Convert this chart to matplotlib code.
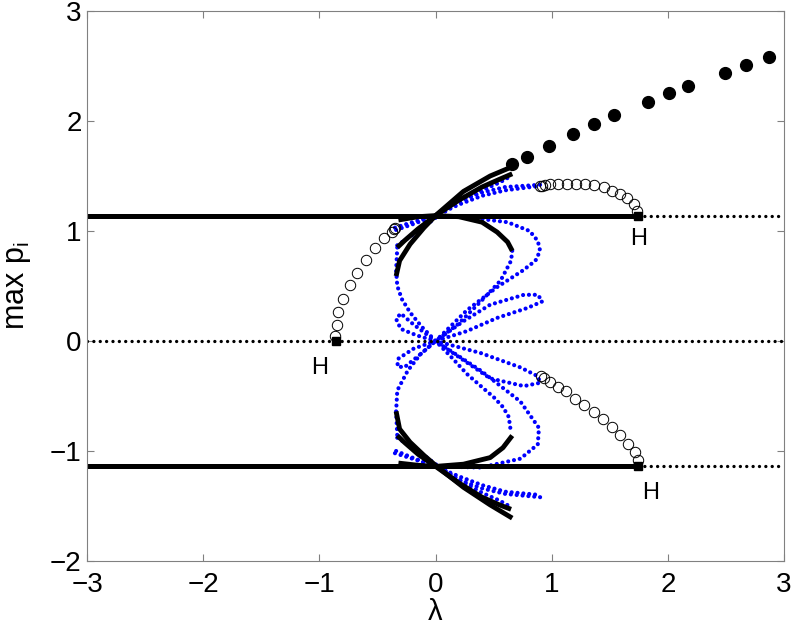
import matplotlib
matplotlib.use("Agg")
import matplotlib.pyplot as plt

plt.rcParams['font.family'] = ['Liberation Sans', 'DejaVu Sans']

# steady states (lines at 0 and +-1.14), Hopf points
lam_hopf = [-0.86, 1.74, 1.74]
p_hopf = [0.0, 1.14, -1.14]
p_level = 1.14

# periodic branches from the Hopf points (open circles)
left_x = [-0.866, -0.852, -0.838, -0.795, -0.737, -0.674, -0.599, -0.522, -0.444, -0.378, -0.358, -0.349]
left_y = [0.05, 0.15, 0.26, 0.384, 0.505, 0.616, 0.738, 0.844, 0.938, 0.995, 1.02, 1.03]
upr_x = [0.895, 0.916, 0.944, 0.987, 1.05, 1.131, 1.211, 1.289, 1.366, 1.447, 1.522, 1.591, 1.648, 1.705, 1.734]
upr_y = [1.405, 1.411, 1.416, 1.423, 1.425, 1.429, 1.429, 1.423, 1.414, 1.398, 1.368, 1.338, 1.302, 1.247, 1.186]
lor_x = [0.909, 0.935, 0.981, 1.05, 1.125, 1.203, 1.28, 1.36, 1.441, 1.519, 1.591, 1.657, 1.714, 1.74]
lor_y = [-0.314, -0.338, -0.375, -0.414, -0.459, -0.525, -0.586, -0.647, -0.707, -0.784, -0.859, -0.935, -1.011, -1.086]

# stable periodic branch (filled circles)
fill_x = [0.661, 0.791, 0.977, 1.179, 1.365, 1.537, 1.825, 2.007, 2.170, 2.494, 2.672, 2.873]
fill_y = [1.606, 1.673, 1.773, 1.879, 1.970, 2.052, 2.175, 2.252, 2.321, 2.439, 2.509, 2.582]

# black solid curves
k1_up_x = [-0.34, -0.31, -0.22, -0.10, 0.01, 0.24, 0.47, 0.65]
k1_up_y = [0.59, 0.73, 0.88, 1.03, 1.15, 1.36, 1.50, 1.58]
k2_up_x = [-0.33, -0.27, -0.15, 0.0, 0.2, 0.4, 0.55, 0.66]
k2_up_y = [0.85, 0.91, 1.02, 1.14, 1.28, 1.40, 1.47, 1.52]
k3_up_x = [-0.32, -0.15, 0.0, 0.2, 0.4, 0.53, 0.62, 0.66]
k3_up_y = [1.10, 1.13, 1.14, 1.13, 1.08, 0.99, 0.90, 0.82]
k1_lo_x = [-0.34, -0.31, -0.22, -0.10, 0.01, 0.24, 0.47, 0.66]
k1_lo_y = [-0.64, -0.80, -0.92, -1.04, -1.14, -1.33, -1.49, -1.61]
k2_lo_x = [-0.33, -0.27, -0.15, 0.0, 0.2, 0.4, 0.55, 0.65]
k2_lo_y = [-0.86, -0.92, -1.03, -1.14, -1.29, -1.42, -1.49, -1.53]
k3_lo_x = [-0.32, -0.15, 0.0, 0.24, 0.47, 0.58, 0.66]
k3_lo_y = [-1.11, -1.13, -1.14, -1.12, -1.06, -0.97, -0.86]

# blue dotted curves
blue_curves = {
    'a': ([-0.33, -0.34, -0.33, -0.29, -0.22, -0.12, 0.0, 0.13, 0.27, 0.40, 0.50, 0.58, 0.63, 0.65],
          [0.85, 0.64, 0.50, 0.38, 0.26, 0.13, 0.0, -0.14, -0.30, -0.42, -0.51, -0.60, -0.69, -0.84]),
    'b': ([0.66, 0.65, 0.56, 0.39, 0.19, 0.0, -0.13, -0.24, -0.33, -0.34, -0.33],
          [0.82, 0.73, 0.55, 0.36, 0.15, 0.0, -0.12, -0.27, -0.45, -0.64, -0.86]),
    'loop_up': ([0.0, 0.27, 0.62, 0.81, 0.88, 0.90, 0.86, 0.75, 0.53, 0.27, 0.0],
                [1.14, 1.125, 1.08, 1.0, 0.91, 0.82, 0.73, 0.64, 0.49, 0.28, 0.0]),
    'loop_lo': ([0.0, 0.39, 0.73, 0.89, 0.88, 0.73, 0.39, 0.0],
                [0.0, -0.27, -0.55, -0.79, -0.94, -1.07, -1.15, -1.14]),
    'pet_ur': ([0, 0.24, 0.47, 0.76, 0.88, 0.92, 0.79, 0.53, 0.27, 0],
               [0, 0.18, 0.33, 0.42, 0.42, 0.36, 0.30, 0.21, 0.09, 0]),
    'pet_lr': ([0, 0.39, 0.73, 0.88, 0.90, 0.76, 0.47, 0.22, 0],
               [0, -0.11, -0.24, -0.32, -0.38, -0.41, -0.34, -0.16, 0]),
    'pet_ul': ([0, -0.19, -0.30, -0.34, -0.30, -0.16, 0],
               [0, 0.15, 0.25, 0.20, 0.11, 0.05, 0]),
    'pet_ll': ([0, -0.19, -0.32, -0.33, -0.27, -0.13, 0],
               [0, -0.07, -0.16, -0.23, -0.24, -0.12, 0]),
    'ray_u1': ([-0.35, -0.2, 0, 0.2, 0.4, 0.6, 0.9], [1.03, 1.08, 1.14, 1.24, 1.32, 1.37, 1.41]),
    'ray_u2': ([-0.34, -0.2, 0, 0.2, 0.4, 0.6, 0.9], [1.01, 1.06, 1.14, 1.27, 1.35, 1.40, 1.42]),
    'ray_u3': ([-0.33, -0.15, 0, 0.2, 0.4, 0.55, 0.65], [0.87, 1.0, 1.12, 1.26, 1.37, 1.44, 1.50]),
    'ray_l1': ([-0.35, -0.2, 0, 0.2, 0.4, 0.6, 0.9], [-1.02, -1.07, -1.14, -1.23, -1.31, -1.37, -1.40]),
    'ray_l2': ([-0.34, -0.2, 0, 0.2, 0.4, 0.6, 0.9], [-1.00, -1.06, -1.14, -1.26, -1.34, -1.39, -1.42]),
    'ray_l3': ([-0.33, -0.15, 0, 0.2, 0.4, 0.55, 0.65], [-0.88, -1.0, -1.12, -1.26, -1.38, -1.45, -1.51]),
}

fig = plt.figure(figsize=(7.93, 6.25), dpi=100)
ax = fig.add_axes([0.110, 0.1024, 0.8786, 0.880])

for name, (bx, by) in blue_curves.items():
    ax.plot(bx, by, color='#0000ff', lw=3.0, linestyle=(0, (0.01, 1.4)),
            dash_capstyle='round')

for kx, ky in [(k1_up_x, k1_up_y), (k2_up_x, k2_up_y), (k3_up_x, k3_up_y),
               (k1_lo_x, k1_lo_y), (k2_lo_x, k2_lo_y), (k3_lo_x, k3_lo_y)]:
    ax.plot(kx, ky, color='k', lw=3.5, solid_capstyle='butt')

# steady states
dots = (0, (0.01, 1.9))
ax.plot([-3, 3], [0, 0], color='k', lw=2.4, linestyle=dots, dash_capstyle='round')
for s in [1, -1]:
    ax.plot([-3, lam_hopf[1]], [s * p_level, s * p_level], color='k', lw=3.6, solid_capstyle='butt')
    ax.plot([lam_hopf[1], 3], [s * p_level, s * p_level], color='k', lw=2.4, linestyle=dots,
            dash_capstyle='round')

for cx, cy in [(left_x, left_y), (upr_x, upr_y), (lor_x, lor_y)]:
    ax.plot(cx, cy, 'o', ms=7.5, mfc='none', mec='k', mew=0.7)
ax.plot(fill_x, fill_y, 'o', ms=8.5, color='k')

ax.plot(lam_hopf, p_hopf, 's', ms=5.5, color='k')
ax.text(-1.0, -0.25, 'H', fontsize=17, ha='center', va='center')
ax.text(1.75, 0.93, 'H', fontsize=17, ha='center', va='center')
ax.text(1.85, -1.38, 'H', fontsize=17, ha='center', va='center')

ax.set_xlim(-3, 3)
ax.set_ylim(-2, 3)
ax.set_xticks([-3, -2, -1, 0, 1, 2, 3])
ax.set_yticks([-2, -1, 0, 1, 2, 3])
for sp in ax.spines.values():
    sp.set_color('#808080')
    sp.set_linewidth(0.8)
ax.tick_params(direction='in', length=5, width=0.8, color='#808080', labelsize=20,
               top=True, right=True)
ax.tick_params(axis='x', pad=8)
ax.tick_params(axis='y', pad=4)
ax.set_xlabel('λ', fontsize=21, labelpad=0)
ax.set_ylabel('max p$_\\mathregular{i}$', fontsize=22, labelpad=12)

fig.savefig('out.png', dpi=100)
